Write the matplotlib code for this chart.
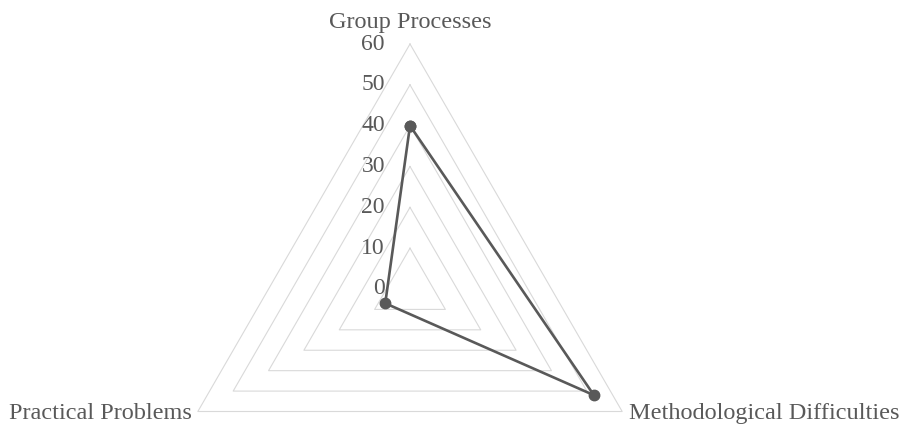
import numpy as np
import matplotlib
matplotlib.use("Agg")
import matplotlib.pyplot as plt

categories = ["Group Processes", "Methodological Difficulties", "Practical Problems"]
values = [40, 52, 7]
rings = [10, 20, 30, 40, 50, 60]
tick_values = [0, 10, 20, 30, 40, 50, 60]

text_color = "#595959"
line_color = "#595959"
grid_color = "#d9d9d9"

plt.rcParams["font.family"] = ["Liberation Serif", "DejaVu Serif"]

fig = plt.figure(figsize=(9, 4.29), dpi=100)
# polar axes centred in the figure, radius 245 px
cx, cy, rad = 410, 140, 245
ax = fig.add_axes([(cx - rad) / 900, (cy - rad) / 429, 2 * rad / 900, 2 * rad / 429],
                  projection="polar")
ax.set_theta_offset(np.pi / 2)
ax.set_theta_direction(-1)
ax.set_ylim(0, 60)
ax.set_axis_off()

angles = np.linspace(0, 2 * np.pi, len(categories), endpoint=False)
closed = np.append(angles, angles[0])

# triangular grid
for r in rings:
    ax.plot(closed, [r] * len(closed), color=grid_color, lw=0.8, clip_on=False, zorder=1)

# data series
vals = values + values[:1]
ax.plot(closed, vals, color=line_color, lw=1.9, marker="o", markersize=7.5,
        clip_on=False, zorder=3)

# value labels along the top axis
for t in tick_values:
    ax.annotate(str(t), xy=(0, t), xytext=(-25, 0), textcoords="offset pixels",
                ha="right", va="center", fontsize=17, color=text_color)

# category labels
offsets = [((0, 22), "center", "center"),
           ((7, -2), "left", "center"),
           ((-6, -2), "right", "center")]
for ang, name, (off, ha, va) in zip(angles, categories, offsets):
    ax.annotate(name, xy=(ang, 60), xytext=off, textcoords="offset pixels",
                ha=ha, va=va, fontsize=17.5, color=text_color, annotation_clip=False)

fig.savefig("out.png", dpi=100)
